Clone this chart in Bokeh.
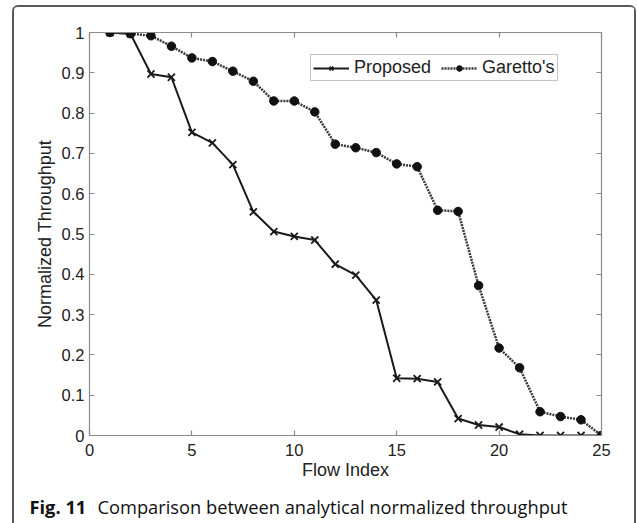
from bokeh.plotting import figure
from bokeh.layouts import column
from bokeh.models import (LinearAxis, Range1d, Legend, LegendItem, Label,
                          FixedTicker)
from bokeh.embed import file_html
from bokeh.resources import INLINE

# ---- data ----
flow_index = list(range(1, 26))
proposed = [1.0, 0.997, 0.897, 0.889, 0.752, 0.726, 0.672, 0.555, 0.506, 0.494,
            0.485, 0.425, 0.398, 0.336, 0.142, 0.141, 0.133, 0.042, 0.026, 0.021,
            0.003, 0.0, 0.0, 0.0, 0.0]
garetto = [1.0, 0.997, 0.992, 0.966, 0.937, 0.928, 0.904, 0.879, 0.830, 0.830,
           0.803, 0.723, 0.714, 0.702, 0.674, 0.667, 0.559, 0.556, 0.372, 0.217,
           0.168, 0.059, 0.047, 0.039, 0.0]
x_ticks = [0, 5, 10, 15, 20, 25]
y_ticks = [0, 0.1, 0.2, 0.3, 0.4, 0.5, 0.6, 0.7, 0.8, 0.9, 1]
y_tick_labels = ["0", "0.1", "0.2", "0.3", "0.4", "0.5", "0.6", "0.7", "0.8", "0.9", "1"]
series_names = ["Proposed", "Garetto's"]
x_label = "Flow Index"
y_label = "Normalized Throughput"
caption_bold = "Fig. 11"
caption_text = "Comparison between analytical normalized throughput"

FONT = "Liberation Sans"
AXIS_COLOR = "#8a8a8a"
TEXT_COLOR = "#222222"

# outer card: margin 5/12 px, 2px border -> inner area starts at (14, 7)
INNER_W = 620

p = figure(width=INNER_W, height=475, output_backend="svg", toolbar_location=None,
           x_range=Range1d(0, 25), y_range=Range1d(0, 1),
           x_axis_location=None, y_axis_location=None,
           min_border_left=75, min_border_right=33,
           min_border_top=25, min_border_bottom=44)
p.frame_align = False
p.background_fill_color = "white"
p.border_fill_color = "white"
p.outline_line_color = None
p.xgrid.visible = False
p.ygrid.visible = False


def style_axis(ax, show_labels):
    ax.axis_line_color = AXIS_COLOR
    ax.axis_line_width = 1.2
    ax.major_tick_line_color = AXIS_COLOR
    ax.major_tick_line_width = 1.2
    ax.major_tick_in = 5
    ax.major_tick_out = 0
    ax.minor_tick_line_color = None
    ax.major_label_text_font = FONT
    ax.major_label_text_font_size = "16.5px"
    ax.axis_label_text_font = FONT
    ax.axis_label_text_font_style = "normal"
    ax.axis_label_text_color = TEXT_COLOR
    ax.axis_label_text_font_size = "18px"
    if show_labels:
        ax.major_label_text_color = TEXT_COLOR
    else:
        ax.major_label_text_color = None
        ax.major_label_standoff = 0


xb = LinearAxis(ticker=FixedTicker(ticks=x_ticks), axis_label=x_label)
style_axis(xb, True)
xb.major_label_standoff = 8
xb.axis_label_standoff = 1
p.add_layout(xb, "below")

yl = LinearAxis(ticker=FixedTicker(ticks=y_ticks), axis_label=y_label)
style_axis(yl, True)
yl.major_label_overrides = dict(zip(y_ticks, y_tick_labels))
yl.major_label_standoff = 5
yl.axis_label_standoff = 4
p.add_layout(yl, "left")

xt = LinearAxis(ticker=FixedTicker(ticks=x_ticks))
style_axis(xt, False)
p.add_layout(xt, "above")

yr = LinearAxis(ticker=FixedTicker(ticks=y_ticks))
style_axis(yr, False)
p.add_layout(yr, "right")

# ---- series ----
l1 = p.line(flow_index, proposed, line_color="#1a1a1a", line_width=2)
m1 = p.scatter(flow_index, proposed, marker="x", size=10, line_color="#1a1a1a",
               line_width=1.8)
l2 = p.line(flow_index, garetto, line_color="#3a3a3a", line_width=2.5,
            line_dash="2 1")
m2 = p.scatter(flow_index, garetto, marker="circle", size=8.5,
               fill_color="#111111", line_color="#111111")

legend = Legend(items=[LegendItem(label=series_names[0], renderers=[l1, m1]),
                       LegendItem(label=series_names[1], renderers=[l2, m2])],
                orientation="horizontal", location=(221, 354),
                glyph_width=36, glyph_height=14, label_standoff=5, spacing=10,
                padding=2, margin=0, label_height=18,
                label_text_font=FONT, label_text_font_size="18px",
                label_text_color=TEXT_COLOR,
                border_line_color=AXIS_COLOR, border_line_width=1,
                background_fill_alpha=1)
p.add_layout(legend, "center")

# ---- caption strip (its frame covers the whole strip) ----
CAP_H = 41
cap = figure(width=INNER_W, height=CAP_H, output_backend="svg", toolbar_location=None,
             x_range=Range1d(0, 1), y_range=Range1d(0, 1),
             x_axis_location=None, y_axis_location=None,
             min_border_left=0, min_border_right=0, min_border_top=0,
             min_border_bottom=0, outline_line_color=None)
cap.frame_align = False
cap.xgrid.visible = False
cap.ygrid.visible = False
cap1 = Label(x=15, y=17, x_units="screen", y_units="screen", text=caption_bold,
             text_font="Open Sans", text_font_style="bold",
             text_font_size="18.3px", text_color="#111111",
             text_baseline="alphabetic")
cap2 = Label(x=83, y=17, x_units="screen", y_units="screen", text=caption_text,
             text_font="Open Sans", text_font_size="18.3px",
             text_color="#111111", text_baseline="alphabetic")
cap.add_layout(cap1)
cap.add_layout(cap2)

layout = column(p, cap, spacing=0,
                styles={"margin": "5px 0 0 12px",
                        "border": "2px solid #5a5a5a",
                        "border-bottom": "none",
                        "border-radius": "6px 6px 0 0",
                        "background": "white"})

open("out.html", "w").write(file_html(layout, INLINE))
